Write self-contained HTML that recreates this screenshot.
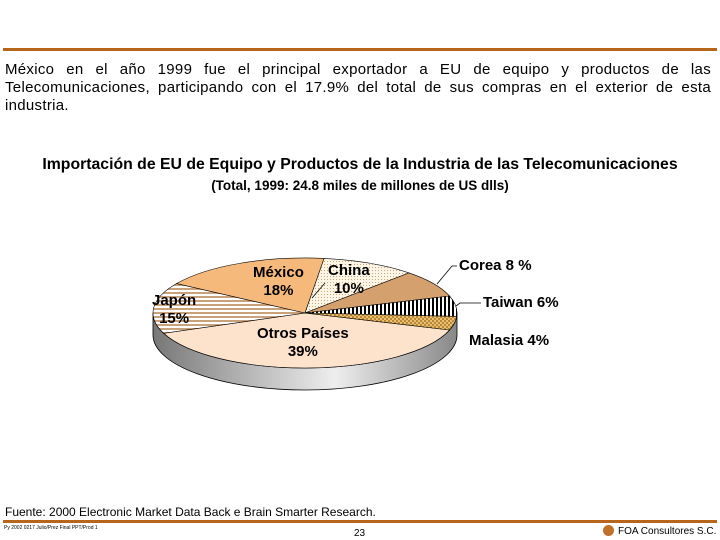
<!DOCTYPE html>
<html><head><meta charset="utf-8">
<style>
body{margin:0;background:#fff;width:720px;height:540px;overflow:hidden;position:relative;font-family:"Liberation Sans",sans-serif;}
.t{position:absolute;white-space:nowrap;}
.j{position:absolute;left:5px;width:706px;font-size:15px;line-height:18px;text-align:justify;text-align-last:justify;white-space:nowrap;letter-spacing:0.3px}
.lb{font-size:15px;font-weight:bold;text-align:center;line-height:18px}
</style></head>
<body>
<div style="position:absolute;left:3px;top:48px;width:714px;height:3px;background:#b8651c"></div>
<div>
<div class="j" style="top:61px">México en el año 1999 fue el principal exportador a EU de equipo y productos de las</div>
<div class="j" style="top:79px">Telecomunicaciones, participando con el 17.9% del total de sus compras en el exterior de esta</div>
<div class="j" style="top:97px;text-align-last:left">industria.</div>
</div>
<div class="t" style="left:0;width:720px;text-align:center;top:156px;font-size:15.8px;font-weight:bold">Importación de EU de Equipo y Productos de la Industria de las Telecomunicaciones</div>
<div class="t" style="left:0;width:720px;text-align:center;top:178px;font-size:13.5px;font-weight:bold">(Total, 1999: 24.8 miles de millones de US dlls)</div>
<svg id="pie" width="720" height="540" style="position:absolute;left:0;top:0">
<defs>
<pattern id="hstripe" width="6" height="4" patternUnits="userSpaceOnUse"><rect width="6" height="4" fill="#fff"/><rect width="6" height="2" fill="#c9a27a"/></pattern>
<pattern id="vstripe" width="4" height="6" patternUnits="userSpaceOnUse"><rect width="4" height="6" fill="#fff"/><rect width="2" height="6" fill="#000"/></pattern>
<pattern id="dots" width="3" height="3" patternUnits="userSpaceOnUse"><rect width="3" height="3" fill="#fdf6e6"/><rect width="1" height="1" fill="#c8a878"/></pattern>
<pattern id="cross" width="4" height="4" patternUnits="userSpaceOnUse"><rect width="4" height="4" fill="#e8c070"/><rect width="2" height="2" fill="#b88838"/><rect x="2" y="2" width="2" height="2" fill="#b88838"/></pattern>
<linearGradient id="side" x1="0" x2="1" y1="0" y2="0"><stop offset="0" stop-color="#777"/><stop offset="0.25" stop-color="#aaa"/><stop offset="0.6" stop-color="#eee"/><stop offset="1" stop-color="#888"/></linearGradient>
</defs>
</svg>
<div class="t lb" style="left:253px;top:264px">México<br>18%</div>
<div class="t lb" style="left:328px;top:262px">China<br>10%</div>
<div class="t lb" style="left:152px;top:292px">Japón<br>15%</div>
<div class="t lb" style="left:257px;top:325px">Otros Países<br>39%</div>
<div class="t lb" style="left:459px;top:257px">Corea 8 %</div>
<div class="t lb" style="left:483px;top:294px">Taiwan 6%</div>
<div class="t lb" style="left:469px;top:332px">Malasia 4%</div>
<div class="t" style="left:5px;top:505px;font-size:12px">Fuente: 2000 Electronic Market Data Back e Brain Smarter Research.</div>
<div style="position:absolute;left:3px;top:520px;width:714px;height:3px;background:#b8651c"></div>
<div class="t" style="left:4px;top:525px;font-size:5px">Py 2002 0217 Julio/Prez Final PPT/Prod 1</div>
<div class="t" style="left:354px;top:528px;font-size:10px">23</div>
<div style="position:absolute;left:603px;top:525px;width:11px;height:11px;border-radius:50%;background:#c0702a"></div>
<div class="t" style="left:618px;top:526px;font-size:10px">FOA Consultores S.C.</div>
<script>
const categories=["Otros Países","Japón","México","China","Corea","Taiwan","Malasia"];
const values=[39,15,18,10,8,6,4];
const fills=["#fde2cc","url(#hstripe)","#f6b97c","url(#dots)","#d3a06e","url(#vstripe)","url(#cross)"];
const svg=document.getElementById('pie');
const NS='http://www.w3.org/2000/svg';
const cx=305,cy=313,rx=152,ry=55,depth=22,start=18*Math.PI/180;
const total=values.reduce((a,b)=>a+b,0);
function pt(t,dy){return [cx+rx*Math.cos(t),cy+ry*Math.sin(t)+(dy||0)];}
const s=document.createElementNS(NS,'path');
let a=pt(0),b=pt(Math.PI);
s.setAttribute('d',`M${a[0]},${a[1]} A${rx},${ry} 0 0 1 ${b[0]},${b[1]} L${b[0]},${b[1]+depth} A${rx},${ry} 0 0 0 ${a[0]},${a[1]+depth} Z`);
s.setAttribute('fill','url(#side)');s.setAttribute('stroke','#000');s.setAttribute('stroke-width','0.8');


svg.appendChild(s);
let ang=start;
values.forEach((v,i)=>{
  const sw=v/total*2*Math.PI;
  const p1=pt(ang),p2=pt(ang+sw);
  const p=document.createElementNS(NS,'path');
  p.setAttribute('d',`M${cx},${cy} L${p1[0]},${p1[1]} A${rx},${ry} 0 ${sw>Math.PI?1:0} 1 ${p2[0]},${p2[1]} Z`);
  p.setAttribute('fill',fills[i]);p.setAttribute('stroke','#000');p.setAttribute('stroke-width','0.6');
  
  
  svg.appendChild(p);
  ang+=sw;
});
function line(pts,name){const l=document.createElementNS(NS,'polyline');l.setAttribute('points',pts);l.setAttribute('fill','none');l.setAttribute('stroke','#000');l.setAttribute('stroke-width','0.8');


svg.appendChild(l);}
line("437,284 452,266 457,266","leader-corea");
line("456,306 460,303 481,303","leader-taiwan");
line("312,298 325,283","leader-china");
</script>
</body></html>
